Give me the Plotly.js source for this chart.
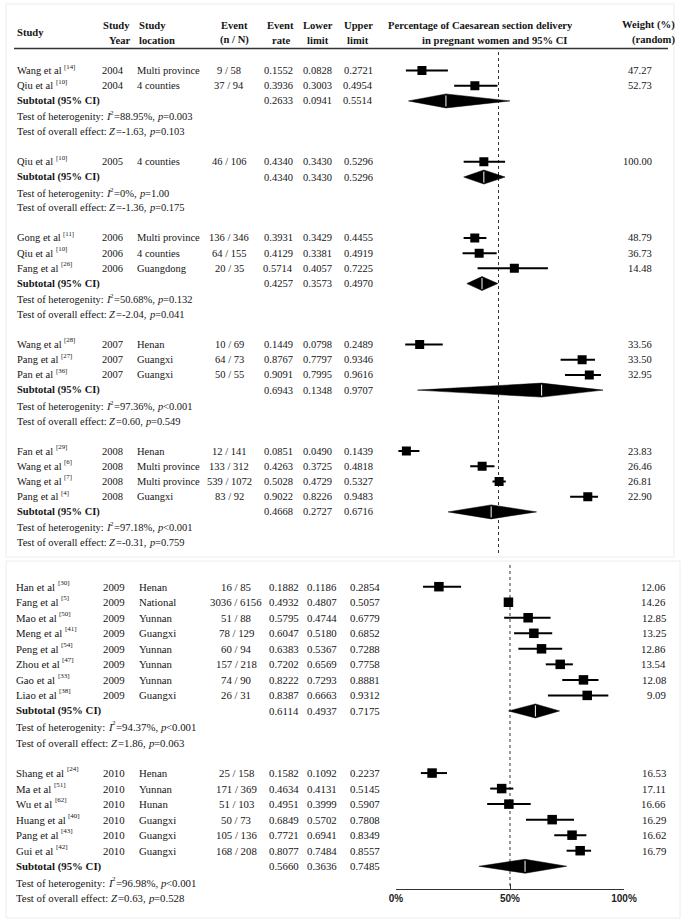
<!DOCTYPE html>
<html><head><meta charset="utf-8">
<script src="https://cdn.plot.ly/plotly-3.0.1.min.js"></script>
<style>html,body{margin:0;padding:0;background:#fff}#chart{width:697px;height:922px}</style>
</head><body><div id="chart"></div>
<script>
// ---------------- DATA ----------------
const groupYears = ['2004','2005','2006','2007','2008','2009','2010'];
const groupPanel = [0,0,0,0,0,1,1];

const studyGroup = [0,0, 1, 2,2,2, 3,3,3, 4,4,4,4, 5,5,5,5,5,5,5,5, 6,6,6,6,6,6];
const studyAuthors = ['Wang','Qiu', 'Qiu', 'Gong','Qiu','Fang', 'Wang','Pang','Pan',
  'Fan','Wang','Wang','Pang', 'Han','Fang','Mao','Meng','Peng','Zhou','Gao','Liao',
  'Shang','Ma','Wu','Huang','Pang','Gui'];
const studyRefs = ['14','10', '10', '11','10','26', '28','27','36', '29','6','7','4',
  '30','5','50','41','54','47','33','38', '24','51','62','40','43','42'];
const studyLocations = ['Multi province','4 counties', '4 counties',
  'Multi province','4 counties','Guangdong', 'Henan','Guangxi','Guangxi',
  'Henan','Multi province','Multi province','Guangxi',
  'Henan','National','Yunnan','Guangxi','Yunnan','Yunnan','Yunnan','Guangxi',
  'Henan','Yunnan','Hunan','Guangxi','Guangxi','Guangxi'];
const studyEvents = [9,37, 46, 136,64,20, 10,64,50, 12,133,539,83,
  16,3036,51,78,60,157,74,26, 25,171,51,50,105,168];
const studyTotals = [58,94, 106, 346,155,35, 69,73,55, 141,312,1072,92,
  85,6156,88,129,94,218,90,31, 158,369,103,73,136,208];
const studyRates = [0.1552,0.3936, 0.4340, 0.3931,0.4129,0.5714, 0.1449,0.8767,0.9091,
  0.0851,0.4263,0.5028,0.9022, 0.1882,0.4932,0.5795,0.6047,0.6383,0.7202,0.8222,0.8387,
  0.1582,0.4634,0.4951,0.6849,0.7721,0.8077];
const studyLower = [0.0828,0.3003, 0.3430, 0.3429,0.3381,0.4057, 0.0798,0.7797,0.7995,
  0.0490,0.3725,0.4729,0.8226, 0.1186,0.4807,0.4744,0.5180,0.5367,0.6569,0.7293,0.6663,
  0.1092,0.4131,0.3999,0.5702,0.6941,0.7484];
const studyUpper = [0.2721,0.4954, 0.5296, 0.4455,0.4919,0.7225, 0.2489,0.9346,0.9616,
  0.1439,0.4818,0.5327,0.9483, 0.2854,0.5057,0.6779,0.6852,0.7288,0.7758,0.8881,0.9312,
  0.2237,0.5145,0.5907,0.7808,0.8349,0.8557];
const studyWeights = [47.27,52.73, 100.00, 48.79,36.73,14.48, 33.56,33.50,32.95,
  23.83,26.46,26.81,22.90, 12.06,14.26,12.85,13.25,12.86,13.54,12.08,9.09,
  16.53,17.11,16.66,16.29,16.62,16.79];

const subtotalRate  = [0.2633,0.4340,0.4257,0.6943,0.4668,0.6114,0.5660];
const subtotalLower = [0.0941,0.3430,0.3573,0.1348,0.2727,0.4937,0.3636];
const subtotalUpper = [0.5514,0.5296,0.4970,0.9707,0.6716,0.7175,0.7485];
const hetI2   = ['88.95%','0%','50.68%','97.36%','97.18%','94.37%','96.98%'];
const hetP    = ['=0.003','=1.00','=0.132','<0.001','<0.001','<0.001','<0.001'];
const overallZ = ['-1.63','-1.36','-2.04','0.60','-0.31','1.86','0.63'];
const overallP = ['0.103','0.175','0.041','0.549','0.759','0.063','0.528'];

const referenceValue = 0.5;
const axisTickVals = [0, 0.5, 1];
const axisTickText = ['0%','50%','100%'];

// ---------------- LAYOUT CONSTANTS ----------------
const W = 697, H = 922;
const FAMILY = 'Liberation Serif';
const SERIF = 'Liberation Serif, Times New Roman, serif';
const INK = '#151515';
const PANELS = [
  {firstRow:70.5, step:15.22, xDom:[387.5,609.5], xaxis:'x',
   cols:{name:17,year:102,loc:137,event:229,rate:278,lower:317,upper:358,weight:652},
   font:10.5, dotTop:52, dotBot:556, sq:9, dh:7},
  {firstRow:586.7, step:15.53, xDom:[396,624], xaxis:'x2',
   cols:{name:16,year:103,loc:139,event:236,rate:284,lower:322,upper:365,weight:666},
   font:10.8, dotTop:565, dotBot:889, sq:9.5, dh:7}
];

// ---------------- BUILD ----------------
const traces = [];
const annotations = [];
const rowCounter = [0,0];
const P = PANELS.map(() => ({ciX:[],ciY:[], sqX:[],sqY:[], dX:[],dY:[], wX:[],wY:[]}));
const ctx = document.createElement('canvas').getContext('2d');
function textWidth(t, size, italic, bold){
  ctx.font = (italic ? 'italic ' : '') + (bold ? 'bold ' : '') + size + 'px "' + FAMILY + '"';
  return ctx.measureText(t).width;
}
function annot(x, y, text, anchor, size, opts){
  opts = opts || {};
  annotations.push({xref:'x3', yref:'y', x:x, y:y, xanchor:anchor, yanchor:'middle',
    text:text, showarrow:false, borderpad:0, borderwidth:0, yshift:opts.yshift || 0,
    font:{family:SERIF, size:size, color:INK,
      style:opts.italic ? 'italic' : 'normal', weight:opts.bold ? 'bold' : 'normal'}});
}
function addText(pi, x, y, text, anchor, opts){ annot(x, y, text, anchor, PANELS[pi].font, opts); }
// rich text in pieces: each piece is its own left-anchored annotation
function addRich(pi, x, y, pieces){
  const fs = PANELS[pi].font;
  let cx = x;
  pieces.forEach(p => {
    const size = p.sup ? fs * 0.65 : fs;
    annot(cx, y, p.t, 'left', size, {italic:p.it, yshift:p.sup ? 4 : 0});
    cx += textWidth(p.t, size, p.it, false) + (p.it ? 0.6 : 0);
  });
}

groupYears.forEach((yr, g) => {
  const pi = groupPanel[g], cfg = PANELS[pi], acc = P[pi], c = cfg.cols;
  const rowY = () => cfg.firstRow + (rowCounter[pi]++) * cfg.step;
  studyGroup.forEach((sg, i) => {
    if (sg !== g) return;
    const y = rowY();
    addRich(pi, c.name, y, [{t:studyAuthors[i] + ' et al '}, {t:'[' + studyRefs[i] + ']', sup:true}]);
    addText(pi, c.year, y, yr, 'left');
    addText(pi, c.loc, y, studyLocations[i], 'left');
    addText(pi, c.event, y, studyEvents[i] + ' / ' + studyTotals[i], 'center');
    addText(pi, c.rate, y, studyRates[i].toFixed(4), 'center');
    addText(pi, c.lower, y, studyLower[i].toFixed(4), 'center');
    addText(pi, c.upper, y, studyUpper[i].toFixed(4), 'center');
    addText(pi, c.weight, y, studyWeights[i].toFixed(2), 'right');
    acc.ciX.push(studyLower[i], studyUpper[i], null); acc.ciY.push(y, y, null);
    acc.sqX.push(studyRates[i]); acc.sqY.push(y);
  });
  const ys = rowY();
  addText(pi, c.name, ys, 'Subtotal (95% CI)', 'left', {bold:true});
  addText(pi, c.rate, ys, subtotalRate[g].toFixed(4), 'center');
  addText(pi, c.lower, ys, subtotalLower[g].toFixed(4), 'center');
  addText(pi, c.upper, ys, subtotalUpper[g].toFixed(4), 'center');
  acc.dX.push(subtotalLower[g], subtotalRate[g], subtotalUpper[g], subtotalRate[g], subtotalLower[g], null);
  acc.dY.push(ys, ys - cfg.dh, ys, ys + cfg.dh, ys, null);
  acc.wX.push(subtotalRate[g], subtotalRate[g], null);
  acc.wY.push(ys - cfg.dh + 1.5, ys + cfg.dh - 1.5, null);
  const yh = rowY() + 0.8;
  addRich(pi, c.name, yh, [{t:'Test of heterogenity: '}, {t:'I', it:true}, {t:'2', sup:true},
    {t:'=' + hetI2[g] + ', '}, {t:'p', it:true}, {t:hetP[g]}]);
  const yo = rowY() + 0.5;
  addRich(pi, c.name, yo, [{t:'Test of overall effect: '}, {t:'Z', it:true},
    {t:'=' + overallZ[g] + ', '}, {t:'p', it:true}, {t:'=' + overallP[g]}]);
  rowCounter[pi]++; // blank line between groups
});

PANELS.forEach((cfg, pi) => {
  const acc = P[pi];
  traces.push({type:'scatter', mode:'lines', xaxis:cfg.xaxis, yaxis:'y',
    x:[referenceValue, referenceValue], y:[cfg.dotTop, cfg.dotBot],
    line:{color:'#333', width:1, dash:'dot'}, hoverinfo:'skip', showlegend:false});
  traces.push({type:'scatter', mode:'lines', xaxis:cfg.xaxis, yaxis:'y',
    x:acc.ciX, y:acc.ciY, line:{color:'#000', width:2}, hoverinfo:'skip', showlegend:false});
  traces.push({type:'scatter', mode:'markers', xaxis:cfg.xaxis, yaxis:'y',
    x:acc.sqX, y:acc.sqY, marker:{symbol:'square', size:cfg.sq, color:'#000'},
    hoverinfo:'skip', showlegend:false});
  traces.push({type:'scatter', mode:'lines', xaxis:cfg.xaxis, yaxis:'y',
    x:acc.dX, y:acc.dY, fill:'toself', fillcolor:'#000', line:{color:'#000', width:0.5},
    hoverinfo:'skip', showlegend:false});
  traces.push({type:'scatter', mode:'lines', xaxis:cfg.xaxis, yaxis:'y',
    x:acc.wX, y:acc.wY, line:{color:'#fff', width:1}, hoverinfo:'skip', showlegend:false});
});

// header
const headers = [
  {t:'Study', x:17, y:32, a:'left'},
  {t:'Study', x:130, y:25, a:'right'}, {t:'Year', x:130, y:40, a:'right'},
  {t:'Study', x:139, y:25, a:'left'}, {t:'location', x:139, y:40, a:'left'},
  {t:'Event', x:234, y:25, a:'center'}, {t:'(n / N)', x:234, y:40, a:'center'},
  {t:'Event', x:280, y:25, a:'center'}, {t:'rate', x:281, y:40, a:'center'},
  {t:'Lower', x:318, y:25, a:'center'}, {t:'limit', x:318, y:40, a:'center'},
  {t:'Upper', x:358, y:25, a:'center'}, {t:'limit', x:358, y:40, a:'center'},
  {t:'Percentage of Caesarean section delivery', x:480, y:25, a:'center'},
  {t:'in pregnant women and 95% CI', x:495, y:40, a:'center'},
  {t:'Weight (%)', x:648, y:25, a:'center'}, {t:'(random)', x:653, y:40, a:'center'}
];
headers.forEach(h => annot(h.x, h.y, h.t, h.a, 10.6, {bold:true}));

const layout = {
  width:W, height:H, margin:{l:0,r:0,t:0,b:0},
  paper_bgcolor:'#fff', plot_bgcolor:'rgba(0,0,0,0)', showlegend:false,
  xaxis:{domain:[PANELS[0].xDom[0]/W, PANELS[0].xDom[1]/W], range:[0,1], visible:false,
    anchor:'y', fixedrange:true},
  xaxis2:{domain:[PANELS[1].xDom[0]/W, PANELS[1].xDom[1]/W], range:[0,1], anchor:'free',
    position:1 - 889/H, showline:true, linecolor:'#333', linewidth:1,
    ticks:'inside', ticklen:5, tickwidth:1, tickcolor:'#333',
    tickvals:axisTickVals, ticktext:axisTickText,
    tickfont:{family:'Liberation Sans, Arial, sans-serif', size:10, color:'#222', weight:'bold'},
    showgrid:false, zeroline:false, fixedrange:true},
  xaxis3:{domain:[0,1], range:[0,W], visible:false, anchor:'y', fixedrange:true},
  yaxis:{domain:[0,1], range:[H,0], visible:false, anchor:'x', fixedrange:true},
  shapes:[
    {type:'line', xref:'x3', yref:'y', x0:14, x1:668, y0:48.5, y1:48.5,
      line:{color:'#333', width:1.5}},
    {type:'rect', xref:'x3', yref:'y', x0:6, x1:674, y0:4, y1:557,
      line:{color:'#ececec', width:1}},
    {type:'rect', xref:'x3', yref:'y', x0:6, x1:680, y0:561, y1:918,
      line:{color:'#ececec', width:1}}
  ],
  annotations:annotations
};

Plotly.newPlot('chart', traces, layout, {staticPlot:true, displayModeBar:false});
</script></body></html>
